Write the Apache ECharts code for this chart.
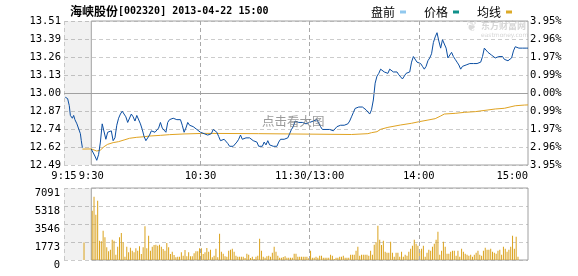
<!DOCTYPE html>
<html><head><meta charset="utf-8">
<script src="https://cdn.jsdelivr.net/npm/echarts@6/dist/echarts.min.js"></script>
<style>html,body{margin:0;padding:0;background:#fff}#c{width:578px;height:276px}</style>
</head><body><div id="c"></div>
<script>
// ---------- data ----------
const stockTitle = '海峡股份';
const stockCode = '[002320] 2013-04-22 15:00';
const prevClose = 13.00;

const xTickValues = [-15, 0, 60, 120, 180, 240];
const xTickLabels = ['9:15', '9:30', '10:30', '11:30/13:00', '14:00', '15:00'];
const priceTicks = ['12.49', '12.62', '12.74', '12.87', '13.00', '13.13', '13.26', '13.39', '13.51'];
const pctTicks = ['3.95%', '2.96%', '1.97%', '0.99%', '0.00%', '0.99%', '1.97%', '2.96%', '3.95%'];
const volTicks = ['0', '1773', '3546', '5318', '7091'];

// pre-market (minutes relative to 9:30)
const preMinutes = [-14.3, -13, -12.1, -11.5, -11, -10.4, -9.7, -9, -7.9, -7, -6, -5.5, -4.9];
const prePrices = [12.97, 12.96, 12.91, 12.84, 12.85, 12.82, 12.84, 12.81, 12.78, 12.77, 12.71, 12.66, 12.61];
const preVolMinutes = [-4];
const preVolumes = [1733];

// per-minute prices, 9:30 .. 15:00 (241 points)
const prices = [
12.60,12.60,12.55,12.52,12.56,12.65,12.78,12.77,12.67,12.72,
12.72,12.73,12.66,12.68,12.77,12.82,12.85,12.87,12.85,12.83,
12.79,12.79,12.85,12.83,12.80,12.84,12.83,12.78,12.74,12.69,
12.66,12.66,12.70,12.73,12.72,12.72,12.73,12.75,12.79,12.75,
12.75,12.72,12.79,12.81,12.80,12.82,12.82,12.81,12.81,12.81,
12.77,12.72,12.75,12.79,12.77,12.76,12.76,12.75,12.74,12.74,
12.72,12.71,12.71,12.70,12.70,12.71,12.71,12.74,12.74,
12.72,12.69,12.66,12.65,12.67,12.66,12.64,12.62,12.61,12.62,
12.63,12.65,12.67,12.70,12.67,12.68,12.68,12.68,12.68,12.67,
12.66,12.66,12.65,12.62,12.62,12.62,12.65,12.63,12.66,12.63,
12.63,12.62,12.61,12.62,12.65,12.67,12.66,12.67,12.67,12.68,
12.71,12.74,12.76,12.80,12.79,12.79,12.80,12.79,12.78,12.78,
12.79,12.79,12.80,12.80,12.80,12.81,12.81,12.76,12.74,12.74,
12.74,12.74,12.74,12.74,12.73,12.74,12.76,12.76,12.77,12.76,
12.77,12.78,12.78,12.80,12.83,12.86,12.89,12.90,12.90,12.90,
12.90,12.91,12.88,12.87,
12.85,12.88,12.95,13.07,13.12,13.14,13.17,
13.16,13.15,13.15,13.14,13.17,13.17,13.15,13.15,13.15,13.13,
13.13,13.10,13.11,13.14,13.14,13.15,13.22,13.26,13.25,13.22,
13.22,13.21,13.19,13.17,13.19,13.23,13.25,13.28,13.36,13.40,
13.43,13.37,13.32,13.38,13.38,13.32,13.25,13.26,13.29,13.26,
13.24,13.22,13.20,13.17,13.19,13.20,13.20,13.20,13.21,13.22,
13.21,13.21,13.21,13.21,13.22,13.26,13.32,13.31,13.29,13.29,
13.27,13.26,13.25,13.25,13.26,13.27,13.26,13.24,13.23,13.23,
13.23,13.25,13.30,13.33,13.32,13.32,13.32,13.32,13.32,13.32,
13.32
];

// average price line (read at selected minutes)
const avgMinutes = [-4.9,0,1,3,5,7,9,10,12,15,18,21,25,29,32,38,43,51,62,92,93,143,144,152,154,157,159,163,170,176,180,185,189,192,194,200,205,211,218,222,227,233,238,240];
const avgPrices = [12.600,12.601,12.593,12.586,12.593,12.617,12.634,12.640,12.646,12.653,12.665,12.677,12.684,12.688,12.693,12.698,12.703,12.708,12.712,12.710,12.704,12.704,12.710,12.710,12.717,12.724,12.741,12.755,12.772,12.784,12.795,12.807,12.817,12.836,12.850,12.855,12.862,12.867,12.879,12.886,12.891,12.909,12.914,12.915];

// per-minute volume, 9:30 .. 15:00 (241 bars)
const volumes = [
4859,6238,4465,5844,1904,1838,2889,2232,1247,854,
1018,2003,1904,525,1313,2232,2659,1740,328,1313,
755,1215,919,755,1149,919,1346,591,1248,3316,
1149,2396,919,1313,1477,1510,1412,1510,1313,1083,
919,1674,1248,591,821,492,263,328,328,755,
427,985,361,755,361,361,657,854,854,1149,
1149,591,755,1182,821,
1018,263,427,1116,263,2594,821,624,361,328,
919,1018,1116,821,427,328,328,328,328,197,
624,525,197,328,98,328,427,2101,919,328,
230,361,427,328,722,1313,821,427,230,230,
296,361,230,230,230,230,624,624,328,328,
328,328,328,328,164,919,230,230,328,230,
427,427,230,230,230,230,525,427,98,230,
230,328,328,427,230,230,230,525,525,525,
919,1313,427,525,525,
525,525,427,919,525,1510,1740,3381,2003,1477,
1904,821,722,722,1806,722,328,722,722,328,
821,328,525,427,821,1116,1412,2003,1609,1412,
919,1116,1412,328,722,1018,919,1313,1609,2003,
2791,525,919,1806,1313,624,624,821,919,919,
427,919,328,1116,821,624,525,427,525,328,
525,722,919,525,427,919,1215,1018,1018,1116,
821,722,624,919,1018,525,1313,1116,821,1018,
1313,2397,1116,2298,328,
0,0,0,0,0,0
];

// ---------- build ----------
const MONO = "'DejaVu Sans Mono', 'Noto Sans CJK SC', monospace";
const CJK = "'Noto Sans CJK SC', sans-serif";
const PCT_MAX = 3.95, PCT_STEP = 0.9875, VOL_MAX = 7091, VOL_STEP = 1772.75;
const pct = p => (p / prevClose - 1) * 100;
const yIdx = v => Math.round((v + PCT_MAX) / PCT_STEP);
const upDownColor = v => { const i = yIdx(v); return i > 4 ? '#ff0000' : (i < 4 ? '#008000' : '#000000'); };
const xFmt = v => { const i = xTickValues.indexOf(Math.round(v)); return i >= 0 ? xTickLabels[i] : ''; };

const preData = preMinutes.map((m, i) => [m, pct(prePrices[i])]);
const priceData = prices.map((p, k) => [k, pct(p)]);
const avgData = avgMinutes.map((m, i) => [m, pct(avgPrices[i])]);
const volData = volumes.map((v, k) => [k + 0.5, v]);
const preVolData = preVolMinutes.map((m, i) => [m, preVolumes[i]]);

const GRID_LINE = { type: [4, 3], color: '#cccccc', width: 1 };
const V_LINE = { type: [4, 3], color: '#a8a8a8', width: 1 };
const BORDER = '#a0a0a0';

function frameMarks(yMin, yMax, withZero) {
  const lines = [
    { xAxis: -15, lineStyle: { type: [4, 3], color: '#c8c8c8' } },
    { xAxis: 60 }, { xAxis: 120 }, { xAxis: 180 }
  ];
  if (withZero) lines.push({ yAxis: 0, lineStyle: { type: 'solid', color: BORDER } });
  return {
    markLine: { silent: true, symbol: 'none', label: { show: false }, lineStyle: V_LINE, data: lines, animation: false },
    markArea: {
      silent: true, label: { show: false }, animation: false,
      data: [
        [{ xAxis: -15, yAxis: yMin, itemStyle: { color: 'rgba(0,0,0,0.055)' } }, { xAxis: 0, yAxis: yMax }],
        [{ xAxis: 0, yAxis: yMin, itemStyle: { color: 'rgba(0,0,0,0)', borderColor: BORDER, borderWidth: 1 } }, { xAxis: 240, yAxis: yMax }]
      ]
    }
  };
}

const option = {
  animation: false,
  backgroundColor: '#ffffff',
  title: {
    left: 70, top: 5, padding: 0,
    text: '{c|' + stockTitle + '}{a|' + stockCode + '}',
    textStyle: { rich: {
      c: { fontFamily: CJK, fontSize: 12, color: '#000' },
      a: { fontFamily: MONO, fontSize: 10, color: '#000' }
    } }
  },
  legend: {
    left: 371, top: 6, padding: 0, align: 'right', icon: 'rect', itemWidth: 6, itemHeight: 3, itemGap: 18,
    textStyle: { fontFamily: CJK, fontSize: 12, color: '#000' },
    selectedMode: false,
    data: [
      { name: '盘前', itemStyle: { color: '#90c8ee' } },
      { name: '价格', itemStyle: { color: '#10908a' } },
      { name: '均线', itemStyle: { color: '#dcaa28' } }
    ]
  },
  grid: [
    { left: 64, right: 50, top: 21, height: 144 },
    { left: 64, right: 50, top: 188, height: 72 }
  ],
  xAxis: [
    { type: 'value', gridIndex: 0, min: -15, max: 240, interval: 15,
      axisLine: { show: false }, axisTick: { show: false }, splitLine: { show: false },
      axisLabel: { interval: 0, margin: 6, formatter: xFmt, fontFamily: MONO, fontSize: 10.5, color: '#000', alignMaxLabel: 'right' } },
    { type: 'value', gridIndex: 1, min: -15, max: 240, interval: 15,
      axisLine: { show: false }, axisTick: { show: false }, splitLine: { show: false }, axisLabel: { show: false } }
  ],
  yAxis: [
    { type: 'value', gridIndex: 0, min: -PCT_MAX, max: PCT_MAX, interval: PCT_STEP, position: 'left',
      axisLine: { show: false }, axisTick: { show: false },
      splitLine: { show: true, lineStyle: GRID_LINE },
      axisLabel: { margin: 3, fontFamily: MONO, fontSize: 10.5, formatter: v => priceTicks[yIdx(v)] || '', color: upDownColor } },
    { type: 'value', gridIndex: 0, min: -PCT_MAX, max: PCT_MAX, interval: PCT_STEP, position: 'right',
      axisLine: { show: false }, axisTick: { show: false }, splitLine: { show: false },
      axisLabel: { margin: 2, fontFamily: MONO, fontSize: 10.5, formatter: v => pctTicks[yIdx(v)] || '', color: upDownColor } },
    { type: 'value', gridIndex: 1, min: 0, max: VOL_MAX, interval: VOL_STEP, position: 'left',
      axisLine: { show: false }, axisTick: { show: false },
      splitLine: { show: true, lineStyle: GRID_LINE },
      axisLabel: { margin: 4, fontFamily: MONO, fontSize: 10.5, color: '#000', verticalAlign: 'top',
        formatter: v => volTicks[Math.round(v / VOL_STEP)] || '' } }
  ],
  series: [
    Object.assign({ name: '盘前', type: 'line', xAxisIndex: 0, yAxisIndex: 0, data: preData,
      showSymbol: false, symbol: 'none', lineStyle: { color: '#0b4ea2', width: 1 }, itemStyle: { color: '#90c8ee' }, z: 3 },
      frameMarks(-PCT_MAX, PCT_MAX, true)),
    { name: '价格', type: 'line', xAxisIndex: 0, yAxisIndex: 0, data: priceData,
      showSymbol: false, symbol: 'none', lineStyle: { color: '#0b4ea2', width: 1 }, itemStyle: { color: '#10908a' }, z: 4 },
    { name: '均线', type: 'line', xAxisIndex: 0, yAxisIndex: 0, data: avgData,
      showSymbol: false, symbol: 'none', lineStyle: { color: '#e0a322', width: 1 }, itemStyle: { color: '#dcaa28' }, z: 3 },
    Object.assign({ name: '成交量', type: 'bar', xAxisIndex: 1, yAxisIndex: 2, data: volData.concat(preVolData),
      barWidth: 1, itemStyle: { color: '#daa21c' }, z: 3 },
      frameMarks(0, VOL_MAX, false))
  ],
  graphic: [
    { type: 'text', left: 262, top: 115, silent: true, z: 10,
      style: { text: '点击看大图', fontFamily: CJK, fontSize: 12.5, fill: 'rgba(120,120,120,0.75)' } },
    { type: 'text', left: 481, top: 21, silent: true,
      style: { text: '东方财富网', fontFamily: CJK, fontSize: 9, fontWeight: 'bold', fill: '#d6d6d6' } },
    { type: 'text', left: 481, top: 32, silent: true,
      style: { text: 'eastmoney.com', fontFamily: "'DejaVu Sans'", fontSize: 6, fill: '#d6d6d6' } },
    { type: 'text', left: 466, top: 21, silent: true,
      style: { text: '❦', fontFamily: "'DejaVu Sans'", fontSize: 13, fill: '#dadada' } }
  ]
};

const chart = echarts.init(document.getElementById('c'), null, { renderer: 'canvas' });
chart.setOption(option);
</script>
</body></html>
